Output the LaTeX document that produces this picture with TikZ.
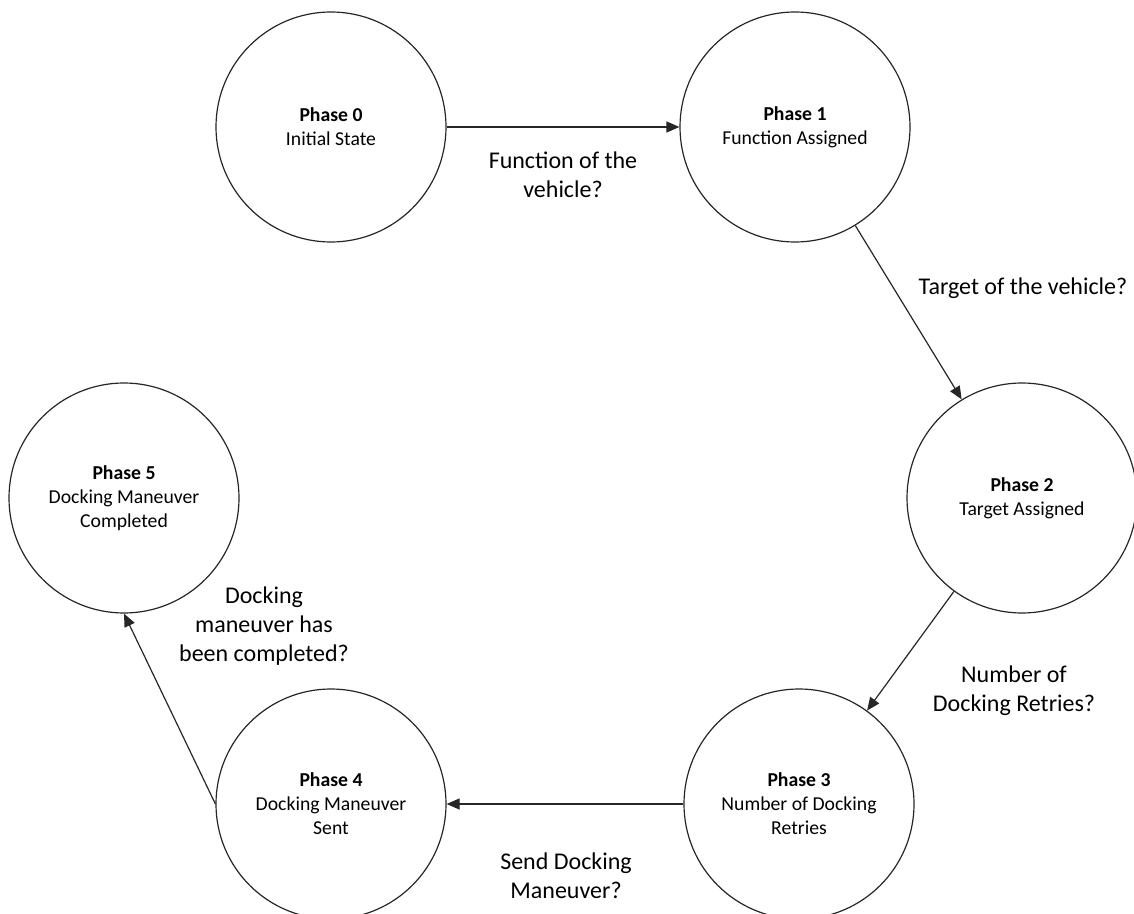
\documentclass[tikz,border=0pt]{standalone}
\usepackage{fontspec}
\setmainfont{Carlito}
\usetikzlibrary{arrows.meta}
\begin{document}
\begin{tikzpicture}[x=0.5pt,y=-0.5pt,
  phase/.style={circle,draw=black!85,line width=0.6pt,minimum size=115pt,inner sep=0pt,
    align=center,font=\fontsize{9.85}{12}\selectfont},
  qlabel/.style={align=center,font=\fontsize{12}{14.6}\selectfont,inner sep=0pt},
  flow/.style={draw=black!85,line width=0.6pt,-{Triangle[length=6.5pt,width=5.5pt]}}]
\useasboundingbox (0,0) rectangle (1134,914);

% phases
\node[phase] (p0) at (331,127) {\textbf{Phase 0}\\Initial State};
\node[phase] (p1) at (795,127) {\textbf{Phase 1}\\Function Assigned};
\node[phase] (p2) at (1022,498) {\textbf{Phase 2}\\Target Assigned};
\node[phase] (p3) at (799,804) {\textbf{Phase 3}\\Number of Docking\\Retries};
\node[phase] (p4) at (331,804) {\textbf{Phase 4}\\Docking Maneuver\\Sent};
\node[phase] (p5) at (124,498) {\textbf{Phase 5}\\Docking Maneuver\\Completed};

% transitions
\draw[flow] (p0) -- (p1);
\draw[flow] (p1) -- (p2);
\draw[flow] (p2) -- (p3);
\draw[flow] (p3) -- (p4);
\draw[flow] (p4.west) -- (p5.south);

% questions on the transitions
\node[qlabel] (q01) at (563,175) {Function of the\\vehicle?};
\node[qlabel] (q12) at (1023,288) {Target of the vehicle?};
\node[qlabel] (q23) at (1014,691) {Number of\\Docking Retries?};
\node[qlabel] (q34) at (566,876) {Send Docking\\Maneuver?};
\node[qlabel] (q45) at (264,626) {Docking\\maneuver has\\been completed?};
\end{tikzpicture}
\end{document}
